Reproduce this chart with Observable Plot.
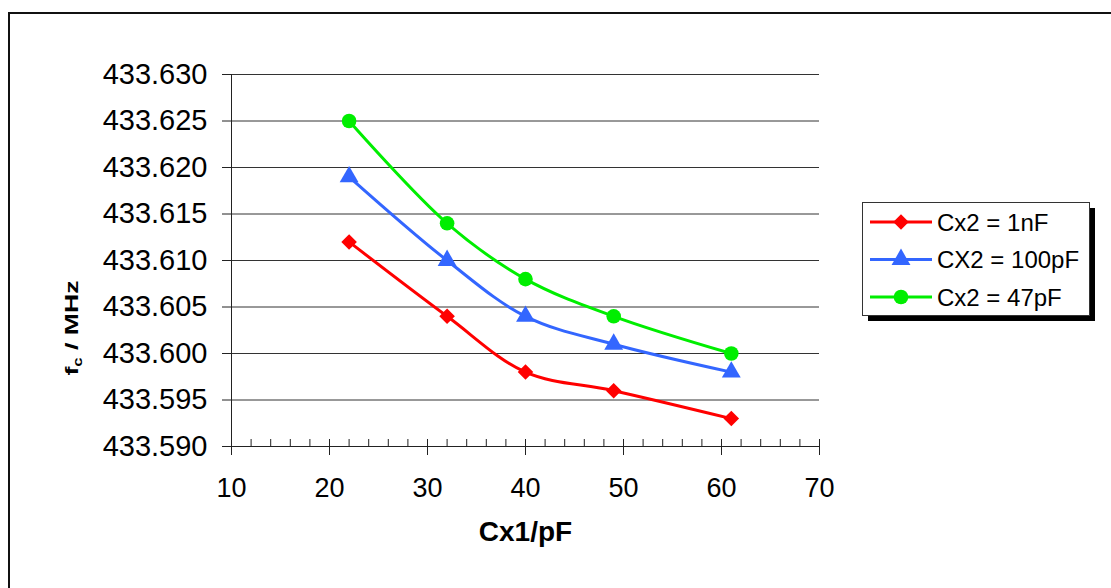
<!DOCTYPE html>
<html>
<head>
<meta charset="utf-8">
<script src="https://cdn.jsdelivr.net/npm/d3@7"></script>
<script src="https://cdn.jsdelivr.net/npm/@observablehq/plot@0.6"></script>
<style>
  html, body { margin: 0; padding: 0; background: #fff; }
  #wrap { position: relative; width: 1111px; height: 588px; overflow: hidden; font-family: "Liberation Sans", Arial, sans-serif; }
  #frame { position: absolute; left: 8px; top: 12px; width: 1200px; height: 700px; border: 2px solid #111; box-sizing: border-box; }
  #chart { position: absolute; left: 0; top: 0; }
  #legend { position: absolute; left: 862px; top: 202px; }
</style>
</head>
<body>
<div id="wrap">
  <div id="frame"></div>
  <div id="chart"></div>
  <div id="legend"></div>
</div>
<script>
// ---- data ----
const cx1 = [22, 32, 40, 49, 61];
const seriesNames = ["Cx2 = 1nF", "CX2 = 100pF", "Cx2 = 47pF"];
const fc1nF   = [433.612, 433.604, 433.598, 433.596, 433.593];
const fc100pF = [433.619, 433.610, 433.604, 433.601, 433.598];
const fc47pF  = [433.625, 433.614, 433.608, 433.604, 433.600];
const seriesColors = ["#ff0000", "#3366ff", "#00ee00"];
const seriesSymbols = ["diamond2", "triangle", "circle"];
const xMajorTicks = [10, 20, 30, 40, 50, 60, 70];
const xMinorTicks = d3.range(10, 71, 2);
const yTicks = [433.590, 433.595, 433.600, 433.605, 433.610, 433.615, 433.620, 433.625, 433.630];

const seriesValues = [fc1nF, fc100pF, fc47pF];
const rows = seriesValues.flatMap((vals, i) =>
  vals.map((v, j) => ({series: seriesNames[i], x: cx1[j], y: v})));

const dotR = {"diamond2": 7, "triangle": 7, "circle": 7.3};

const marks = [
  Plot.gridY(yTicks, {stroke: "#333", strokeOpacity: 1}),
  Plot.ruleX([10], {stroke: "#222"}),
  Plot.ruleY([433.59], {stroke: "#222"}),
  Plot.axisY({ticks: yTicks, tickFormat: d3.format(".3f"), tickSize: 9, tickPadding: 15, fontSize: 29, stroke: "#222", label: null}),
  Plot.axisX({ticks: xMinorTicks, tickSize: -7, tickFormat: () => "", stroke: "#222", label: null}),
  Plot.axisX({ticks: xMajorTicks, tickSize: 9, tickPadding: 22, fontSize: 27, tickFormat: d3.format("d"), stroke: "#222", label: null}),
  Plot.text(["Cx1/pF"], {frameAnchor: "bottom", dy: 94, fontWeight: "bold", fontSize: 28, fill: "#000"})
];
seriesNames.forEach((name, i) => {
  const d = rows.filter(r => r.series === name);
  marks.push(Plot.line(d, {x: "x", y: "y", stroke: seriesColors[i], strokeWidth: 3, curve: "catmull-rom"}));
  marks.push(Plot.dot(d, {x: "x", y: "y", fill: seriesColors[i], stroke: "none", symbol: seriesSymbols[i], r: dotR[seriesSymbols[i]]}));
});

const chart = Plot.plot({
  width: 1111,
  height: 588,
  marginLeft: 231,
  marginRight: 292,
  marginTop: 74,
  marginBottom: 142,
  style: {fontFamily: "'Liberation Sans', Arial, sans-serif", fontSize: "27px", background: "transparent", color: "#000"},
  x: {domain: [10, 70]},
  y: {domain: [433.59, 433.63]},
  marks
});
document.getElementById("chart").appendChild(chart);

// y-axis title with subscript
const svg = d3.select(chart);
const yt = svg.append("text")
  .attr("transform", "translate(78,328) rotate(-90) scale(1.4,1)")
  .attr("text-anchor", "middle")
  .attr("font-weight", "bold")
  .attr("font-size", 19)
  .attr("fill", "#000");
yt.append("tspan").text("f");
yt.append("tspan").attr("font-size", 12).attr("dy", 4).text("c");
yt.append("tspan").attr("dy", -4).text(" / MHz");

// legend
const lw = 227, lh = 113, sh = 6;
const lg = d3.select("#legend").append("svg")
  .attr("width", lw + sh + 2).attr("height", lh + sh + 2)
  .style("font-family", "'Liberation Sans', Arial, sans-serif");
lg.append("rect").attr("x", sh).attr("y", sh).attr("width", lw).attr("height", lh).attr("fill", "#000");
lg.append("rect").attr("x", 0.5).attr("y", 0.5).attr("width", lw).attr("height", lh).attr("fill", "#fff").attr("stroke", "#333");
const symMap = {"diamond2": d3.symbolDiamond2, "triangle": d3.symbolTriangle, "circle": d3.symbolCircle};
seriesNames.forEach((name, i) => {
  const cy = 20 + i * 37.5;
  const g = lg.append("g");
  g.append("line").attr("x1", 8).attr("x2", 70).attr("y1", cy).attr("y2", cy)
    .attr("stroke", seriesColors[i]).attr("stroke-width", 3);
  const r = dotR[seriesSymbols[i]];
  g.append("path").attr("transform", `translate(39,${cy})`)
    .attr("d", d3.symbol(symMap[seriesSymbols[i]], Math.PI * r * r)())
    .attr("fill", seriesColors[i]);
  g.append("text").attr("x", 75).attr("y", cy).attr("dy", "0.36em")
    .attr("font-size", 24).attr("fill", "#000").text(name);
});
</script>
</body>
</html>
